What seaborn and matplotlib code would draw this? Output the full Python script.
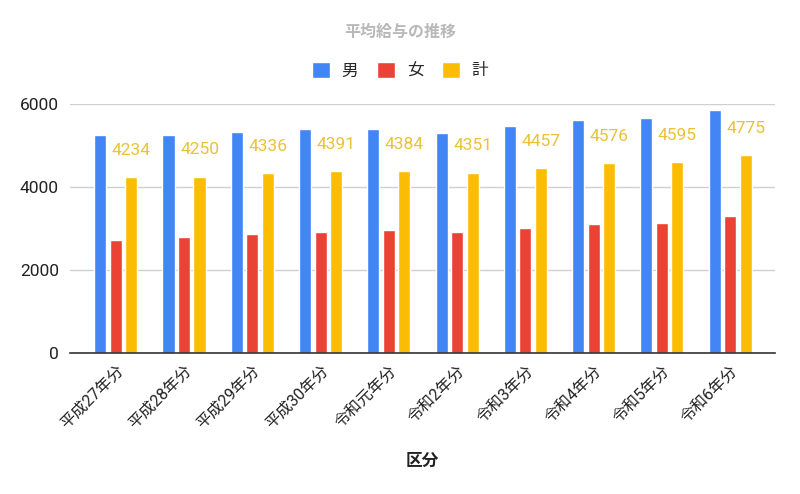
import matplotlib
matplotlib.use("Agg")
import matplotlib.pyplot as plt
import seaborn as sns
import pandas as pd
from matplotlib.patches import Patch

# data
years = ["平成27年分", "平成28年分", "平成29年分", "平成30年分", "令和元年分",
         "令和2年分", "令和3年分", "令和4年分", "令和5年分", "令和6年分"]
male = [5253, 5253, 5330, 5410, 5410, 5315, 5484, 5614, 5678, 5855]
female = [2723, 2788, 2860, 2916, 2956, 2916, 3020, 3108, 3140, 3301]
total = [4234, 4250, 4336, 4391, 4384, 4351, 4457, 4576, 4595, 4775]
series = ["男", "女", "計"]
colors = ["#4285F4", "#EA4335", "#FBBC04"]

df = pd.DataFrame({"区分": years, "男": male, "女": female, "計": total})
long_df = df.melt(id_vars="区分", var_name="系列", value_name="給与")

sns.set_style("white")
plt.rcParams['font.family'] = ['Roboto', 'Noto Sans CJK JP', 'DejaVu Sans']

fig = plt.figure(figsize=(8, 4.94), dpi=100)
ax = fig.add_axes([0.0875, 0.2854, 0.8815, 0.5036])

sns.barplot(data=long_df, x="区分", y="給与", hue="系列", hue_order=series,
            palette=colors, saturation=1, width=0.68, gap=0.22, ax=ax, legend=False)

# labels for the total series
for i, v in enumerate(total):
    ax.annotate(str(v), xy=(i + 0.227, v), xytext=(0, 14), textcoords="offset points",
                ha="center", va="bottom", fontsize=12.5, color="#EBC137")

ax.set_ylim(0, 6000)
ax.set_xlim(-0.67, 9.66)
ax.set_yticks([0, 2000, 4000, 6000])
ax.yaxis.grid(True, color="#D0D0D0", linewidth=1)
ax.set_axisbelow(True)
for s in ["top", "right", "left"]:
    ax.spines[s].set_visible(False)
ax.spines["bottom"].set_color("#333333")
ax.spines["bottom"].set_linewidth(1.2)
ax.tick_params(axis="both", length=0, labelsize=12.5, colors="#222222")
ax.tick_params(axis="y", pad=8)
ax.tick_params(axis="x", labelsize=11.5, pad=7)
plt.setp(ax.get_xticklabels(), rotation=45, ha="right", rotation_mode="anchor")
ax.set_ylabel("")
ax.set_xlabel("区分", fontsize=12, fontweight="bold", color="#222222", labelpad=16)

fig.text(0.5, 0.935, "平均給与の推移", ha="center", va="center",
         fontsize=11.5, fontweight="bold", color="#B8B8B8")

handles = [Patch(facecolor=c, label=s) for c, s in zip(colors, series)]
fig.legend(handles=handles, loc="center", bbox_to_anchor=(0.5, 0.858), ncol=3,
           frameon=False, fontsize=12, handlelength=1.1, handleheight=1.1,
           columnspacing=1.1, handletextpad=0.7)

fig.savefig("out.png", dpi=100)
